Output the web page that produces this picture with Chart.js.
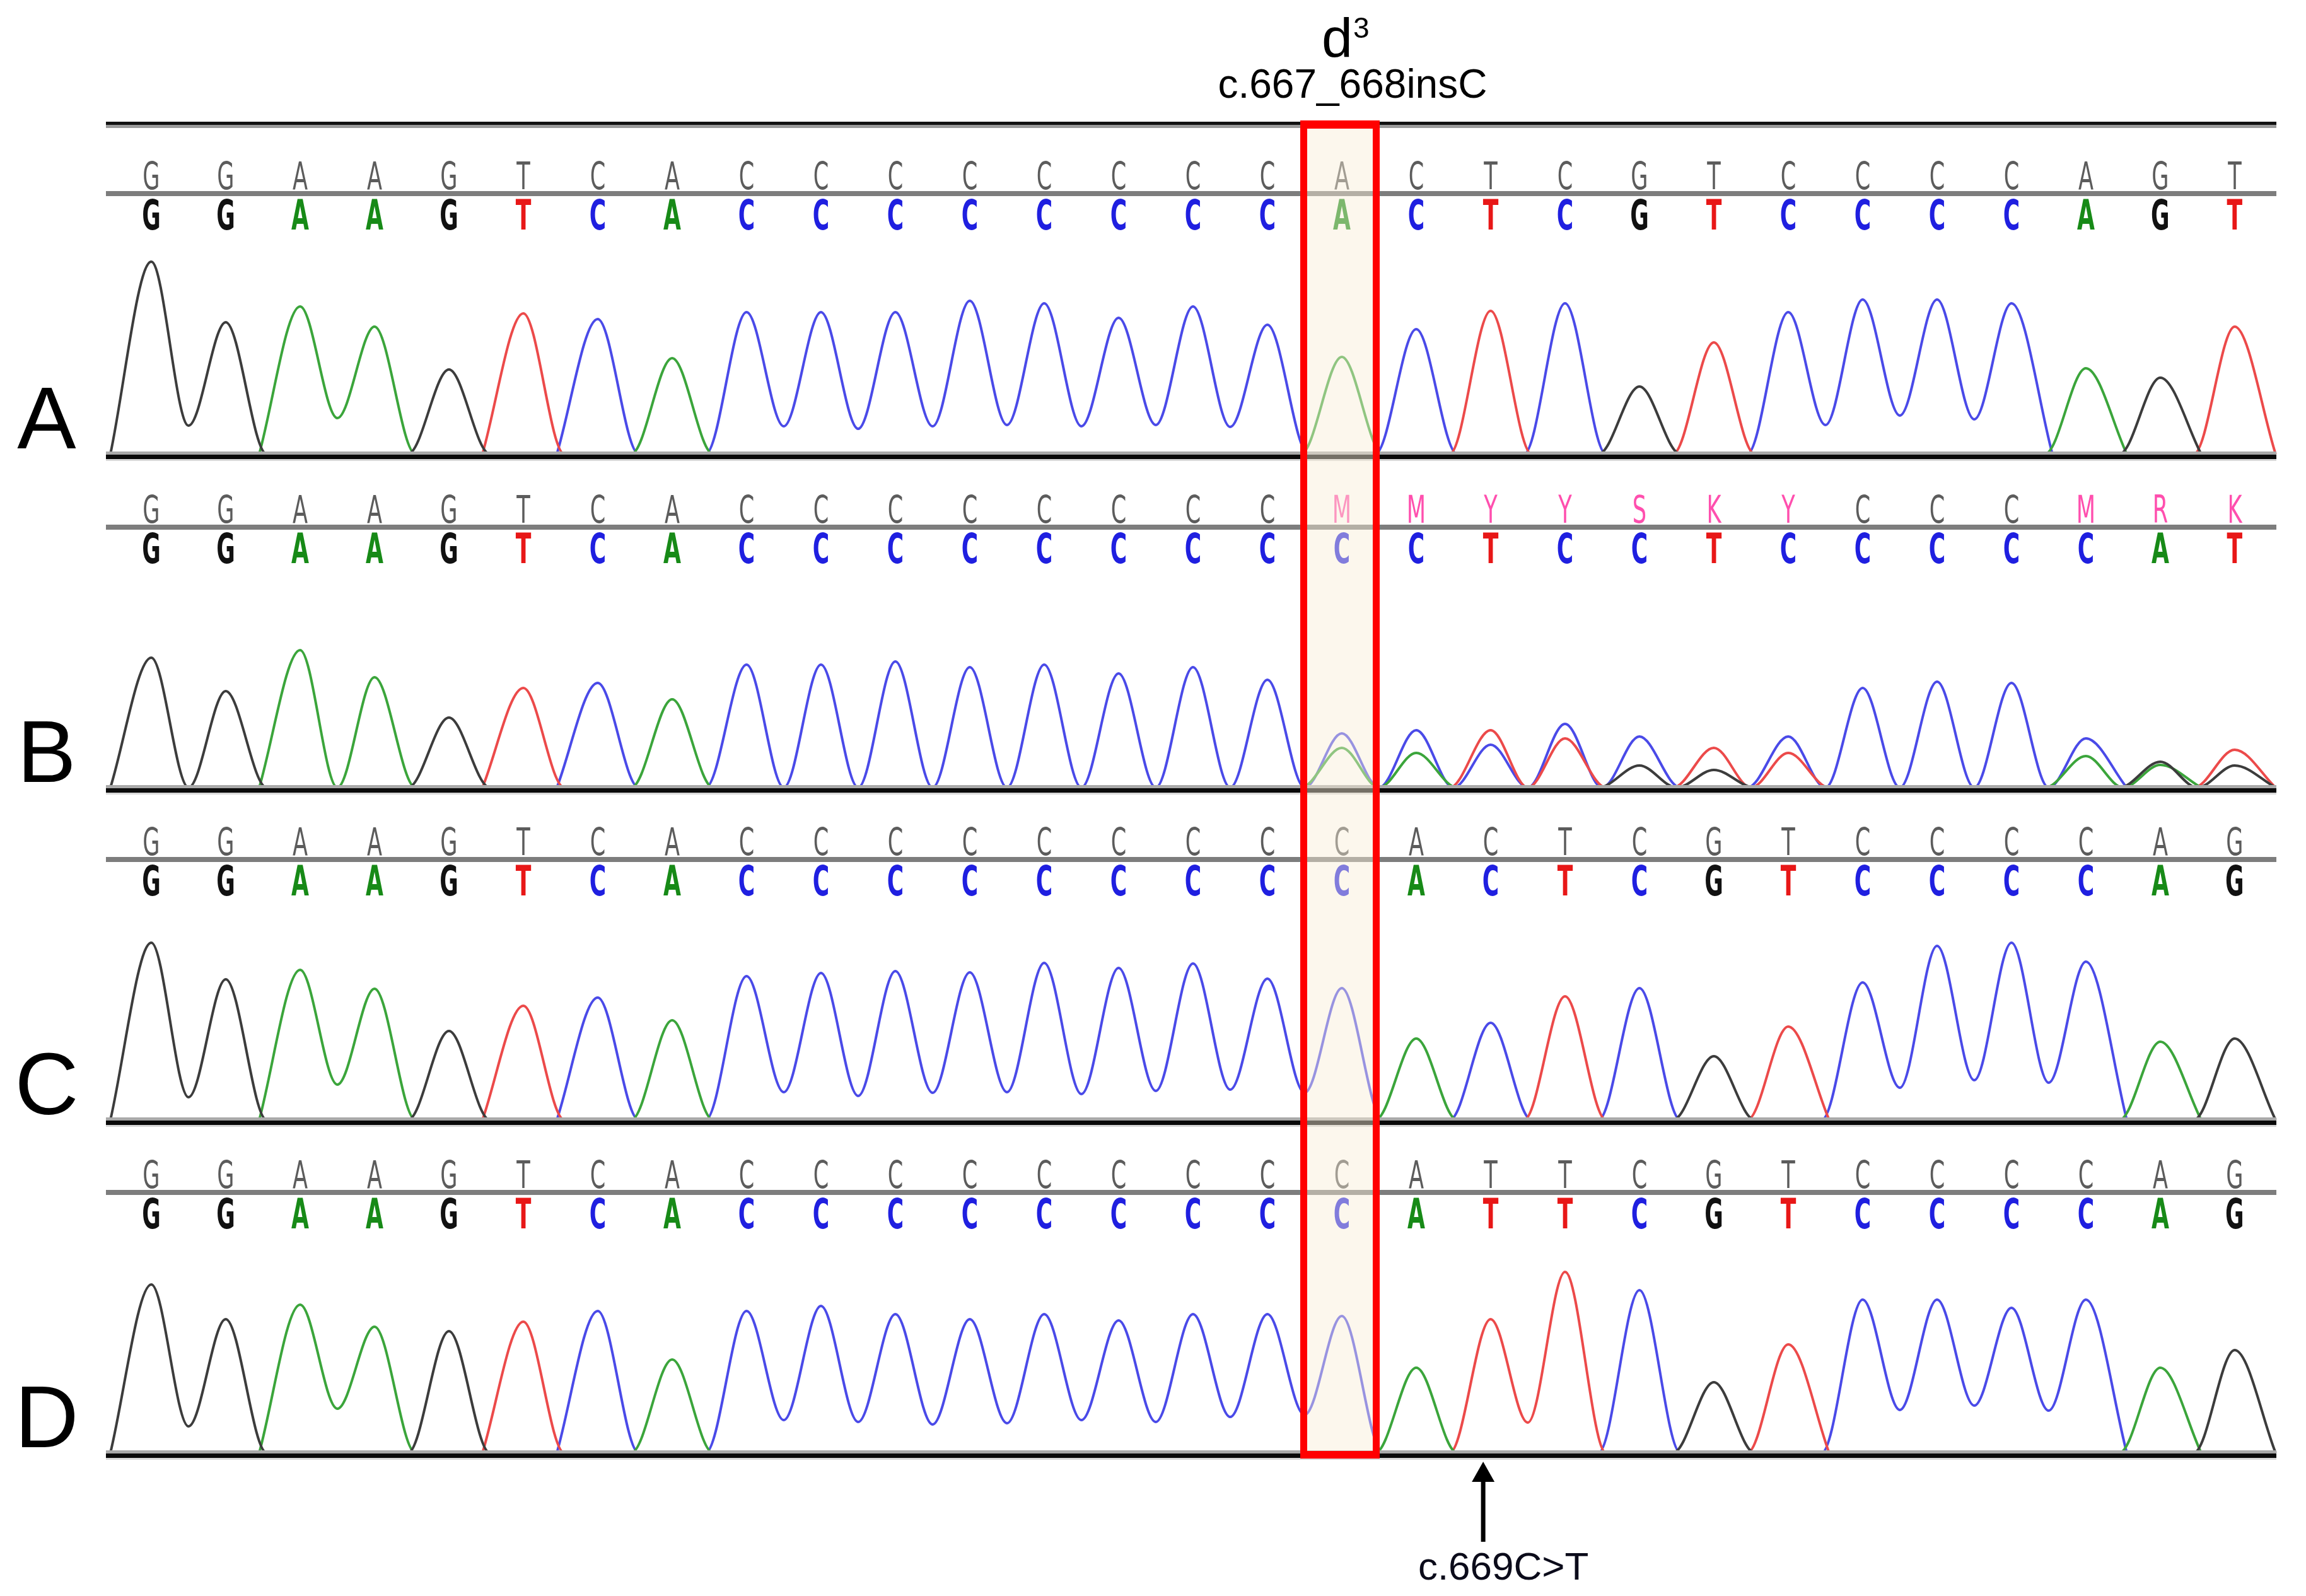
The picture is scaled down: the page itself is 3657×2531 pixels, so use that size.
<!DOCTYPE html>
<html>
<head>
<meta charset="utf-8">
<script src="https://cdn.jsdelivr.net/npm/chart.js"></script>
<style>
  body { margin: 0; background: #fff; }
  #wrap { position: relative; width: 3657px; height: 2531px; overflow: hidden; background: #fff; }
  canvas { position: absolute; left: 0; }
  #mark { position: absolute; box-sizing: border-box; border: 11px solid #ff0000; border-top-width: 13px; border-bottom-width: 12px; background: rgba(248, 238, 215, 0.45); }
</style>
</head>
<body>
<div id="wrap">
  <canvas id="cA" width="3657" height="740" style="top:0px"></canvas>
  <canvas id="cB" width="3657" height="540" style="top:725px"></canvas>
  <canvas id="cC" width="3657" height="540" style="top:1252px"></canvas>
  <canvas id="cD" width="3657" height="751" style="top:1780px"></canvas>
  <div id="mark"></div>
</div>
<script>
// base calls (bold row) and raw calls (grey row), one letter per peak
const callsA = 'GGAAGTCACCCCCCCCACTCGTCCCCAGT'.split('');
const callsB = 'GGAAGTCACCCCCCCCCCTCCTCCCCCAT'.split('');
const rawB   = 'GGAAGTCACCCCCCCCMMYYSKYCCCMRK'.split('');
const callsC = 'GGAAGTCACCCCCCCCCACTCGTCCCCAG'.split('');
const callsD = 'GGAAGTCACCCCCCCCCATTCGTCCCCAG'.split('');

// peak heights of the called base
const heightA = [305,209,234,202,134,223,214,152,225,225,225,243,239,216,234,205,154,198,227,239,107,177,225,245,245,239,136,121,202];
const heightB = [206,153,218,175,111,158,166,140,195,195,200,191,195,181,191,171,86,91,91,101,81,63,81,158,168,166,78,36,60];
const heightC = [281,223,238,208,141,181,194,158,228,233,236,234,249,241,248,224,209,129,154,196,209,101,148,218,276,281,251,124,129];
const heightD = [267,212,235,200,193,208,225,148,225,233,220,212,220,210,220,220,217,135,212,287,258,112,172,243,243,230,243,135,163];

// trough between peak i and i+1 of the same dye (null = back to baseline)
const valleyA = [45,null,57,null,null,null,null,null,44,40,44,46,44,46,43,null,null,null,null,null,null,null,46,61,55,null,null,null];
const valleyB = [];
const valleyC = [36,null,56,null,null,null,null,null,44,38,43,44,41,46,48,43,null,null,null,null,null,null,null,51,63,59,null,null];
const valleyD = [42,null,70,null,null,null,null,null,52,49,45,47,52,49,57,60,null,null,48,null,null,null,null,68,75,67,null,null];

// secondary peaks in trace B (heterozygous region)
const mixPosB    = [16,17,18,19,20,21,22,26,27,28];
const mixBaseB   = ['A','A','C','T','G','G','T','A','G','G'];
const mixHeightB = [63,55,68,78,35,28,55,50,41,35];

const insIndex = 16;      // c.667_668insC
const variantIndex = 18;  // c.669C>T

const dyes = ['G', 'A', 'T', 'C'];
const traceColor = { A: '#3ba53b', C: '#4a4ae8', G: '#3c3c3c', T: '#ec4a4a' };
const callColor = { A: '#178a17', C: '#1f1fe0', G: '#111111', T: '#e81717' };
const HALF = 0.55;

function buildTraces(calls, heights, valleys, mix) {
  const peaks = {};
  dyes.forEach(d => { peaks[d] = new Array(calls.length).fill(null); });
  calls.forEach((b, i) => { peaks[b][i] = heights[i]; });
  if (mix) mix.pos.forEach((p, k) => { peaks[mix.base[k]][p] = mix.height[k]; });
  const last = calls.length - 1;
  return dyes.map(d => {
    const p = peaks[d];
    const pts = [];
    for (let i = 0; i <= last; i++) {
      if (p[i] == null) continue;
      if (i === 0 || p[i - 1] == null) pts.push({ x: i - HALF, y: 0 });
      pts.push({ x: i, y: p[i] });
      if (i < last && p[i + 1] != null) pts.push({ x: i + 0.5, y: valleys[i] == null ? 0 : valleys[i] });
      else pts.push({ x: i + HALF, y: 0 });
    }
    return {
      data: pts,
      borderColor: traceColor[d],
      borderWidth: 4,
      pointRadius: 0,
      fill: false,
      cubicInterpolationMode: 'monotone',
      clip: false
    };
  });
}

function drawGlyph(ctx, ch, x, y, font, sx, sy, color) {
  ctx.save();
  ctx.translate(x, y);
  ctx.scale(sx, sy);
  ctx.font = font;
  ctx.fillStyle = color;
  ctx.textAlign = 'center';
  ctx.textBaseline = 'alphabetic';
  ctx.fillText(ch, 0, 0);
  ctx.restore();
}

const panelPlugin = {
  id: 'panel',
  afterDatasetsDraw(chart, args, opts) {
    const { ctx, chartArea: a } = chart;
    const b0 = a.bottom, w = a.right - a.left;
    ctx.save();
    ctx.fillStyle = '#a9a9a9'; ctx.fillRect(a.left, b0 - 4, w, 5);
    ctx.fillStyle = '#0a0a0a'; ctx.fillRect(a.left, b0 + 1, w, 7);
    ctx.fillStyle = '#d8d8d8'; ctx.fillRect(a.left, b0 + 8, w, 3);
    ctx.restore();
  },
  afterDraw(chart, args, opts) {
    const { ctx, chartArea: a } = chart;
    const x = chart.scales.x;
    const b0 = a.bottom, w = a.right - a.left;
    ctx.save();
    if (opts.topRule) {
      ctx.fillStyle = '#111'; ctx.fillRect(a.left, b0 - 527, w, 5);
      ctx.fillStyle = '#9a9a9a'; ctx.fillRect(a.left, b0 - 522, w, 5);
    }
    opts.raw.forEach((ch, i) => {
      const col = 'ACGT'.includes(ch) ? '#5c5c5c' : '#ff4fae';
      drawGlyph(ctx, ch, x.getPixelForValue(i), b0 - 420, '44px "DejaVu Sans", sans-serif', 0.8, 1.36, col);
    });
    ctx.fillStyle = '#7d7d7d';
    ctx.fillRect(a.left, b0 - 417, w, 8);
    opts.calls.forEach((ch, i) => {
      drawGlyph(ctx, ch, x.getPixelForValue(i), b0 - 356, 'bold 44px "DejaVu Sans", sans-serif', 0.82, 1.5, callColor[ch]);
    });
    ctx.fillStyle = '#000';
    ctx.font = '140px "Liberation Sans", Arial, sans-serif';
    ctx.textAlign = 'center';
    ctx.textBaseline = 'alphabetic';
    ctx.fillText(opts.letter, 74, b0 - 9);

    if (opts.title) {
      const cx = x.getPixelForValue(insIndex);
      ctx.font = '64px "Liberation Sans", Arial, sans-serif';
      ctx.textAlign = 'center';
      ctx.fillText('c.667_668insC', cx + 17, b0 - 565);
      ctx.textAlign = 'left';
      ctx.font = '88px "Liberation Sans", Arial, sans-serif';
      ctx.fillText('d', cx - 32, b0 - 630);
      ctx.font = '46px "Liberation Sans", Arial, sans-serif';
      ctx.fillText('3', cx + 18, b0 - 660);
    }
    if (opts.arrow) {
      const ax = x.getPixelForValue(variantIndex - 0.1);
      ctx.fillStyle = '#000';
      ctx.beginPath();
      ctx.moveTo(ax, b0 + 14);
      ctx.lineTo(ax - 18, b0 + 46);
      ctx.lineTo(ax + 18, b0 + 46);
      ctx.closePath();
      ctx.fill();
      ctx.fillRect(ax - 3.5, b0 + 40, 7, 101);
      ctx.font = '62px "Liberation Sans", Arial, sans-serif';
      ctx.textAlign = 'center';
      ctx.fillStyle = '#0b0b1a';
      ctx.fillText('c.669C>T', ax + 32, b0 + 201);
    }
    ctx.restore();
  }
};

function panelChart(id, padTop, padBottom, traces, panelOpts) {
  return new Chart(document.getElementById(id), {
    type: 'line',
    data: { datasets: traces },
    plugins: [panelPlugin],
    options: {
      responsive: false,
      animation: false,
      devicePixelRatio: 1,
      events: [],
      layout: { padding: { left: 168, right: 47, top: padTop, bottom: padBottom } },
      scales: {
        x: { type: 'linear', min: -0.61, max: 28.56, display: false },
        y: { min: 0, max: 320, display: false }
      },
      plugins: {
        legend: { display: false },
        tooltip: { enabled: false },
        panel: panelOpts
      }
    }
  });
}

const chartA = panelChart('cA', 400, 20, buildTraces(callsA, heightA, valleyA),
  { raw: callsA, calls: callsA, letter: 'A', topRule: true, title: true });
const chartB = panelChart('cB', 204, 16,
  buildTraces(callsB, heightB, valleyB, { pos: mixPosB, base: mixBaseB, height: mixHeightB }),
  { raw: rawB, calls: callsB, letter: 'B' });
const chartC = panelChart('cC', 204, 16, buildTraces(callsC, heightC, valleyC),
  { raw: callsC, calls: callsC, letter: 'C' });
const chartD = panelChart('cD', 204, 227, buildTraces(callsD, heightD, valleyD),
  { raw: callsD, calls: callsD, letter: 'D', arrow: true });

// insertion box spanning all four traces
const xs = chartA.scales.x;
const mark = document.getElementById('mark');
const boxLeft = xs.getPixelForValue(insIndex - 0.56);
const boxRight = xs.getPixelForValue(insIndex + 0.51);
const boxTop = chartA.chartArea.bottom - 529;
const boxBottom = 1780 + chartD.chartArea.bottom + 9;
mark.style.left = Math.round(boxLeft) + 'px';
mark.style.width = Math.round(boxRight - boxLeft) + 'px';
mark.style.top = Math.round(boxTop) + 'px';
mark.style.height = Math.round(boxBottom - boxTop) + 'px';
</script>
</body>
</html>
